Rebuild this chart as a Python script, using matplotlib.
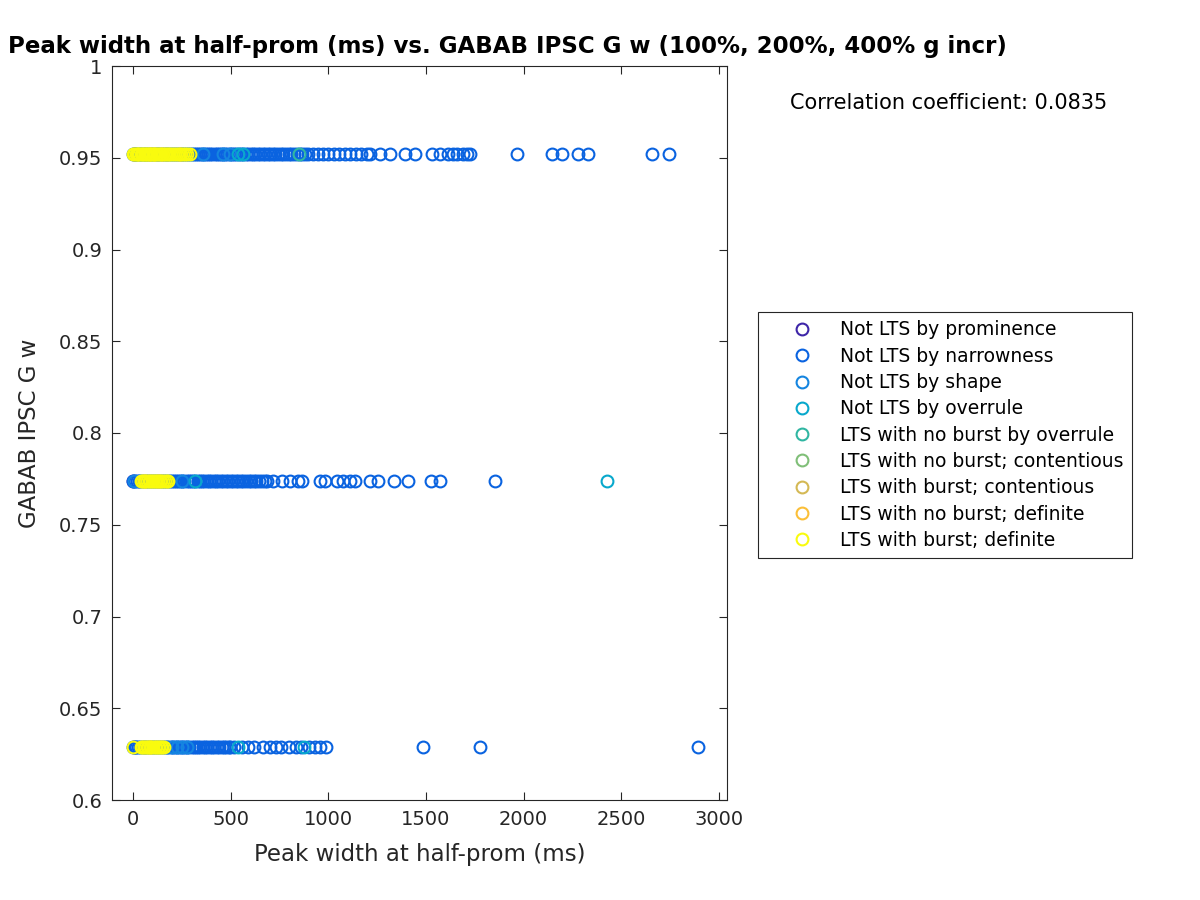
import matplotlib
matplotlib.use('Agg')
import matplotlib.pyplot as plt
from matplotlib.lines import Line2D

# y levels (GABAB IPSC G w) for the three rows
rows = [0.952, 0.774, 0.629]

labels = ['Not LTS by prominence', 'Not LTS by narrowness', 'Not LTS by shape',
          'Not LTS by overrule', 'LTS with no burst by overrule',
          'LTS with no burst; contentious', 'LTS with burst; contentious',
          'LTS with no burst; definite', 'LTS with burst; definite']
colors = ['#3e26a8', '#0a63e0', '#1585e0', '#08a8cc', '#30b6a2',
          '#80bf78', '#d4b955', '#fbbf38', '#f9fb0e']

# peak widths (ms) per class, one list per row (top, middle, bottom)
prominence = [[4], [2], [8]]
narrowness = [
    [0, 9, 17, 26, 34, 43, 51, 60, 69, 77, 86, 95, 104, 113, 122, 131, 140, 149, 158, 168,
     177, 186, 196, 205, 215, 224, 234, 244, 253, 263, 273, 283, 293, 303, 313, 323, 334,
     344, 354, 365, 375, 386, 396, 407, 418, 429, 440, 451, 462, 473, 484, 496, 507, 519,
     530, 542, 554, 566, 578, 590, 602, 614, 627, 639, 652, 664, 677, 690, 703, 716, 729,
     742, 756, 769, 783, 797, 811, 825, 839, 853, 868, 882, 897, 922, 945, 975, 1000, 1030,
     1055, 1085, 1110, 1140, 1170, 1198, 1213, 1264, 1316, 1393, 1444, 1531, 1572, 1613,
     1640, 1659, 1690, 1710, 1725, 1966, 2145, 2197, 2278, 2330, 2657, 2744],
    [0, 10, 19, 29, 38, 48, 58, 67, 77, 87, 97, 107, 117, 127, 137, 147, 158, 168, 178, 189,
     199, 210, 221, 231, 242, 253, 264, 275, 286, 297, 308, 320, 331, 343, 354, 366, 378,
     389, 401, 413, 425, 438, 450, 462, 475, 487, 500, 513, 526, 539, 552, 565, 578, 592,
     605, 619, 632, 646, 660, 674, 686, 717, 763, 804, 845, 865, 957, 983, 1044, 1075, 1111,
     1137, 1213, 1254, 1336, 1408, 1526, 1572, 1853],
    [0, 9, 18, 27, 36, 46, 55, 64, 74, 83, 93, 103, 112, 122, 132, 142, 152, 162, 172, 182,
     193, 203, 213, 224, 234, 245, 256, 267, 278, 289, 300, 311, 323, 334, 346, 357, 369,
     381, 393, 405, 417, 429, 441, 454, 466, 479, 491, 497, 520, 560, 590, 620, 665, 700,
     735, 760, 800, 835, 860, 900, 930, 960, 990, 1485, 1777, 2893],
]
shape = [[15, 358, 461, 497], [5, 250], [200, 225, 250, 276]]
overrule = [[538, 563], [317, 2427], [538, 875]]
lts_overrule = [[850], [], []]
nob_contentious = [[60], [], []]
burst_contentious = [[110], [], []]
nob_definite = [[85, 150, 240], [60, 130], [90]]
burst_definite = [
    [3, 8, 14, 20, 27, 33, 40, 46, 53, 60, 66, 73, 80, 87, 94, 101, 108, 115, 122, 130,
     138, 146, 154, 162, 170, 178, 187, 196, 205, 214, 224, 234, 244, 255, 266, 278, 290],
    [40, 48, 56, 64, 72, 80, 88, 96, 104, 112, 120, 128, 137, 146, 155, 164, 173, 182],
    [0, 41, 48, 56, 63, 71, 79, 87, 95, 103, 111, 119, 127, 135, 143, 151, 159],
]
classes = [prominence, narrowness, shape, overrule, lts_overrule,
           nob_contentious, burst_contentious, nob_definite, burst_definite]

xticks = [0, 500, 1000, 1500, 2000, 2500, 3000]
yticks = [0.6, 0.65, 0.7, 0.75, 0.8, 0.85, 0.9, 0.95, 1.0]
ytick_labels = ['0.6', '0.65', '0.7', '0.75', '0.8', '0.85', '0.9', '0.95', '1']
corr = 0.0835

fig = plt.figure(figsize=(12, 9), dpi=100)
ax = fig.add_axes([112/1200, 100/900, 615/1200, 734/900])

for cls, col in zip(classes, colors):
    for xs, yv in zip(cls, rows):
        if xs:
            ax.plot(xs, [yv]*len(xs), linestyle='none', marker='o', ms=8.5,
                    mfc='none', mec=col, mew=1.5)

ax.set_xlim(-107, 3041)
ax.set_ylim(0.6, 1.0)
ax.set_xticks(xticks)
ax.set_yticks(yticks)
ax.set_yticklabels(ytick_labels)
ax.tick_params(direction='in', top=True, right=True, length=6, width=0.8, pad=7,
               labelsize=14, colors='#262626', labelcolor='#262626')
for sp in ax.spines.values():
    sp.set_color('#262626')
    sp.set_linewidth(0.8)

ax.set_xlabel('Peak width at half-prom (ms)', fontsize=16.5, color='#262626', labelpad=10)
ax.set_ylabel('GABAB IPSC G w', fontsize=16.5, color='#262626', labelpad=13)

fig.text(1007/1200, 1 - 47/900, 'Peak width at half-prom (ms) vs. GABAB IPSC G w (100%, 200%, 400% g incr)',
         ha='right', va='center', fontsize=16.5, fontweight='bold')
fig.text(790/1200, 1 - 103/900, 'Correlation coefficient: %.4f' % corr,
         ha='left', va='center', fontsize=15)

handles = [Line2D([], [], linestyle='none', marker='o', ms=8.5, mfc='none', mec=c, mew=1.5)
           for c in colors]
leg = fig.legend(handles, labels, loc='upper left', bbox_to_anchor=(758/1200, 1 - 312/900),
                 bbox_transform=fig.transFigure, fontsize=13.5, frameon=True, borderaxespad=0,
                 fancybox=False, framealpha=1, edgecolor='#262626',
                 handlelength=3.8, handletextpad=0.12, labelspacing=0.39, borderpad=0.45)
leg.get_frame().set_linewidth(0.8)

fig.savefig('out.png', dpi=100)
